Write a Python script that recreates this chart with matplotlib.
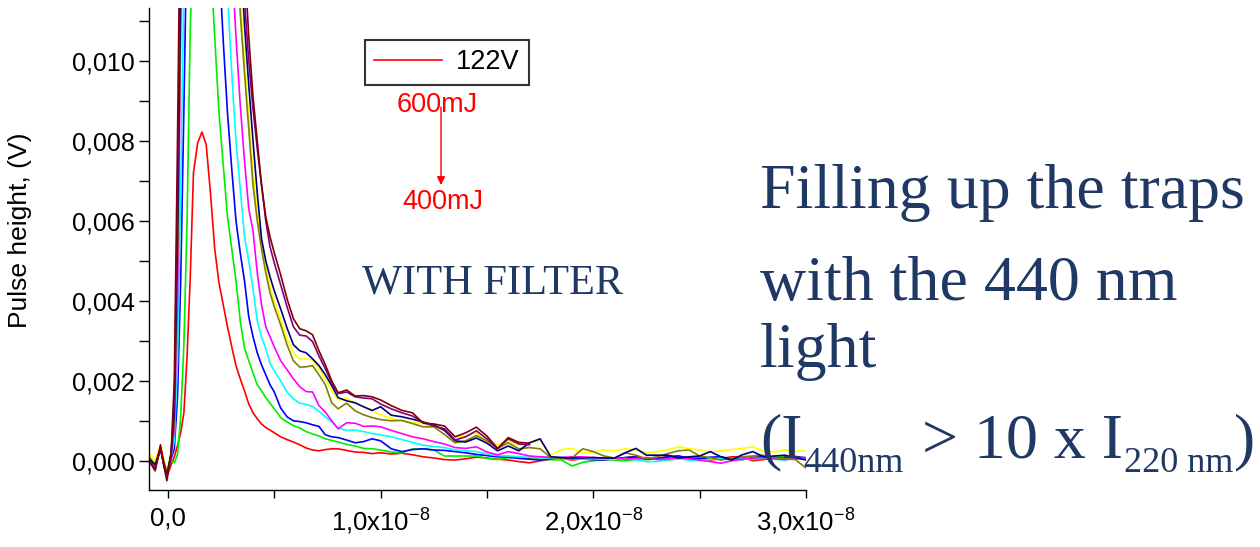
import numpy as np
import matplotlib
matplotlib.use('Agg')
import matplotlib.pyplot as plt

plt.rcParams['font.family'] = ['Liberation Sans', 'DejaVu Sans']
plt.rcParams['mathtext.fontset'] = 'custom'
plt.rcParams['mathtext.rm'] = 'Liberation Sans'
plt.rcParams['mathtext.sf'] = 'Liberation Sans'

# time axis in ns, pulse heights in mV
time_ns = [-0.89, -0.6, -0.35, -0.2, -0.05, 0.15, 0.3, 0.45, 0.6, 0.75, 0.9, 1.05, 1.2, 1.4, 1.6,
           1.8, 2.0, 2.2, 2.4, 2.6, 2.8, 3.0, 3.2, 3.4, 3.6, 3.8, 4.0, 4.2, 4.4, 4.6, 4.8, 5.0,
           5.3, 5.6, 5.9, 6.2, 6.5, 6.8, 7.1, 7.4, 7.7, 8.0, 8.4, 8.8, 9.2, 9.6, 10.0, 10.5, 11.0,
           11.5, 12.0, 12.5, 13.0, 13.5, 14.0, 14.5, 15.0, 15.5, 16.0, 16.5, 17.0, 17.5, 18.0,
           18.5, 19.0, 19.5, 20.0,
           20.5, 21.0, 21.5, 22.0, 22.5, 23.0, 23.5, 24.0, 24.5, 25.0,
           25.5, 26.0, 26.5, 27.0, 27.5, 28.0, 28.5, 29.0, 29.5, 30.0]

red = [0.05, -0.15, 0.3, -0.05, -0.4, -0.1, 0.1, 0.38, 0.7, 1.2, 2.6, 4.6, 7.2, 7.95, 8.22,
       7.9, 6.7, 5.3, 4.45, 3.9, 3.35, 2.85, 2.38, 2.05, 1.75, 1.42, 1.2, 1.05, 0.92, 0.83, 0.77, 0.7,
       0.6, 0.53, 0.47, 0.4, 0.32, 0.27, 0.25, 0.28, 0.3, 0.3, 0.26, 0.22, 0.21, 0.18, 0.2, 0.17, 0.19,
       0.15, 0.1, 0.07, 0.03, 0.02, 0.05, 0.09, 0.07, 0.04, 0.02, -0.02, -0.05, 0.0, 0.04,
       0.06, 0.02, 0.05, 0.08,
       0.05, 0.04, 0.08, 0.1, 0.03, 0.06, 0.1, 0.12, 0.05, 0.08,
       0.02, 0.05, 0.1, 0.1, 0.0, 0.03, 0.08, 0.12, 0.06, 0.05]
green = [0.1, -0.1, 0.3, 0.0, -0.3, 0.0, -0.05, 0.15, 1.1, 2.9, 6.0, 10.8, 13.2, 14.3, 14.6,
         14.0, 12.5, 10.6, 8.7, 7.4, 6.1, 5.3, 4.5, 3.5, 2.82, 2.5, 2.2, 1.9, 1.75, 1.58, 1.44, 1.3,
         1.08, 0.97, 0.88, 0.82, 0.73, 0.67, 0.62, 0.55, 0.51, 0.47, 0.41, 0.37, 0.31, 0.3, 0.27, 0.22, 0.2,
         0.3, 0.3, 0.27, 0.12, 0.12, 0.12, 0.12, 0.06, 0.03, 0.08, 0.09, 0.06, 0.04, 0.03,
         0.02, -0.13, -0.04, 0.0,
         0.03, 0.02, 0.0, 0.03, 0.06, 0.08, 0.02, 0.05, 0.09, 0.1,
         0.04, 0.04, 0.07, 0.08, 0.03, 0.06, 0.1, 0.1, 0.04, 0.05]
blue = [0.05, -0.15, 0.35, -0.05, -0.35, 0.05, 0.3, 1.6, 4.5, 8.8, 13.5, 17.0, 19.0, 20.0, 20.2,
        19.3, 17.5, 15.2, 12.6, 10.5, 8.7, 7.3, 6.0, 5.2, 4.5, 3.6, 3.1, 2.7, 2.4, 2.15, 1.9, 1.72,
        1.32, 1.1, 1.0, 0.98, 0.95, 0.9, 0.86, 0.65, 0.6, 0.58, 0.52, 0.45, 0.48, 0.55, 0.5, 0.3, 0.23,
        0.28, 0.3, 0.27, 0.26, 0.23, 0.2, 0.16, 0.13, 0.1, 0.09, 0.06, 0.04, 0.02, 0.05,
        0.08, 0.07, 0.04, 0.03,
        0.02, 0.05, 0.08, 0.1, 0.04, 0.06, 0.1, 0.12, 0.07, 0.05,
        0.09, 0.1, 0.05, 0.03, 0.08, 0.12, 0.07, 0.06, 0.1, 0.08]
cyan = [0.08, -0.12, 0.3, 0.0, -0.3, 0.1, 0.5, 2.5, 6.8, 12.0, 16.5, 20.0, 22.5, 24.0, 24.3,
        23.5, 21.5, 19.0, 16.5, 13.8, 11.7, 9.7, 8.0, 6.8, 5.6, 5.0, 4.3, 3.5, 3.1, 2.8, 2.44, 2.25,
        2.0, 1.72, 1.55, 1.44, 1.41, 1.36, 1.24, 1.1, 0.97, 0.82, 0.76, 0.77, 0.73, 0.68, 0.65, 0.6, 0.53,
        0.46, 0.39, 0.36, 0.33, 0.27, 0.25, 0.23, 0.17, 0.13, 0.12, 0.1, 0.09, 0.08, 0.07,
        0.05, 0.06, 0.04, 0.05,
        0.04, 0.04, 0.06, 0.02, -0.02, -0.02, 0.03, 0.05, 0.02, 0.0,
        0.04, 0.06, 0.02, 0.03, 0.06, 0.08, 0.04, 0.02, 0.05, 0.06]
magenta = [0.0, -0.2, 0.35, -0.05, -0.35, 0.1, 0.8, 4.0, 10.8, 16.0, 20.5, 24.0, 26.5, 28.0, 28.5,
           27.5, 25.5, 23.0, 20.5, 17.5, 15.0, 12.5, 10.6, 8.9, 7.5, 6.3, 5.75, 4.7, 3.9, 3.35, 3.1, 2.85,
           2.5, 2.28, 2.05, 1.85, 1.73, 1.72, 1.38, 1.22, 1.0, 0.8, 0.95, 0.94, 0.86, 0.87, 0.85, 0.76, 0.68,
           0.6, 0.55, 0.48, 0.42, 0.33, 0.31, 0.35, 0.22, 0.15, 0.23, 0.18, 0.12, 0.1, 0.09,
           0.08, 0.1, 0.1, 0.08,
           0.07, 0.07, 0.04, 0.06, 0.08, 0.03, 0.05, 0.08, 0.05, 0.02,
           -0.02, -0.06, 0.0, 0.04, 0.07, 0.08, 0.05, 0.03, 0.06, 0.07]
yellow = [0.2, 0.0, 0.4, 0.05, -0.25, 0.2, 1.2, 5.5, 12.0, 18.0, 23.0, 27.0, 30.0, 32.0, 32.5,
          31.8, 30.0, 27.5, 24.5, 21.5, 19.0, 16.5, 14.0, 11.6, 10.0, 8.6, 7.2, 6.3, 5.5, 4.9, 4.35, 4.0,
          3.55, 3.05, 2.7, 2.54, 2.55, 2.52, 2.3, 2.05, 1.75, 1.52, 1.56, 1.45, 1.35, 1.25, 1.15, 1.06, 1.0,
          0.96, 0.94, 0.85, 0.8, 0.6, 0.62, 0.7, 0.45, 0.4, 0.5, 0.38, 0.45, 0.5, 0.14,
          0.28, 0.31, 0.19, 0.22,
          0.27, 0.25, 0.3, 0.27, 0.2, 0.23, 0.28, 0.35, 0.3, 0.27,
          0.22, 0.25, 0.28, 0.31, 0.35, 0.25, 0.22, 0.27, 0.24, 0.25]
olive = [0.1, -0.1, 0.35, 0.0, -0.3, 0.15, 1.0, 5.0, 11.5, 17.5, 23.0, 27.0, 30.0, 32.0, 32.5,
         31.5, 29.5, 27.0, 24.0, 21.0, 18.5, 16.0, 13.5, 11.2, 9.7, 8.3, 6.9, 6.0, 5.3, 4.7, 4.2, 3.85,
         3.4, 2.9, 2.5, 2.34, 2.35, 2.38, 2.15, 1.9, 1.45, 1.3, 1.44, 1.25, 1.15, 1.08, 1.03, 1.0, 1.01,
         0.93, 0.85, 0.85, 0.66, 0.45, 0.5, 0.63, 0.5, 0.31, 0.45, 0.3, 0.33, 0.3, 0.08,
         0.06, 0.07, 0.3, 0.23,
         0.12, 0.07, 0.2, 0.14, 0.05, 0.1, 0.18, 0.25, 0.27, 0.12,
         0.08, 0.02, 0.06, 0.1, 0.12, 0.14, 0.08, 0.05, 0.03, -0.18]
navy = [0.05, -0.1, 0.3, -0.05, -0.35, 0.15, 1.2, 5.5, 12.0, 18.5, 24.0, 28.5, 32.0, 34.5, 35.2,
        34.5, 32.5, 29.5, 26.5, 23.5, 20.5, 17.8, 15.2, 12.8, 10.9, 9.4, 8.0, 6.7, 5.55, 5.0, 4.6, 4.25,
        3.8, 3.32, 2.9, 2.75, 2.7, 2.55, 2.38, 2.15, 1.88, 1.58, 1.5, 1.45, 1.35, 1.26, 1.35, 1.14, 1.1,
        1.04, 0.97, 0.9, 0.76, 0.5, 0.47, 0.57, 0.44, 0.25, 0.37, 0.25, 0.45, 0.55, 0.1,
        0.08, 0.07, 0.07, 0.08,
        0.07, 0.07, 0.2, 0.31, 0.14, 0.14, 0.14, 0.07, 0.1, 0.12,
        0.23, 0.1, 0.02, 0.15, 0.23, 0.1, 0.12, 0.14, 0.08, 0.02]
# the two highest traces stop at about 17 ns
purple = [0.0, -0.2, 0.3, -0.1, -0.4, 0.2, 1.5, 6.5, 13.5, 20.0, 26.0, 31.0, 34.5, 37.0, 37.8,
          37.0, 35.0, 32.0, 28.5, 25.5, 22.5, 19.5, 16.5, 13.8, 11.5, 10.0, 8.8, 7.8, 6.9, 6.0, 5.35, 4.95,
          4.4, 3.85, 3.35, 3.14, 3.12, 2.98, 2.62, 2.3, 1.95, 1.68, 1.72, 1.6, 1.57, 1.55, 1.42, 1.3, 1.2,
          1.12, 0.96, 0.87, 0.8, 0.52, 0.6, 0.75, 0.55, 0.3, 0.55, 0.42, 0.4] + [np.nan] * 26
maroon = [0.0, -0.25, 0.4, -0.1, -0.5, 0.2, 2.0, 8.0, 15.0, 22.0, 28.0, 33.0, 37.0, 39.5, 40.3,
          39.5, 37.5, 34.5, 31.0, 27.5, 24.5, 21.5, 18.5, 15.5, 12.5, 10.6, 9.1, 8.0, 6.9, 6.1, 5.6, 5.2,
          4.65, 4.05, 3.55, 3.3, 3.25, 3.15, 2.75, 2.4, 2.0, 1.7, 1.77, 1.62, 1.63, 1.6, 1.52, 1.38, 1.26,
          1.2, 0.94, 0.92, 0.87, 0.6, 0.7, 0.84, 0.62, 0.31, 0.58, 0.46, 0.44] + [np.nan] * 26

series = [red, green, blue, cyan, magenta, yellow, olive, navy, purple, maroon]
colors = ['#ff0000', '#00ee00', '#0000ff', '#00ffff', '#ff00ff', '#ffff00', '#808000', '#000080', '#800080', '#800000']
legend_label = '122V'

xtick_vals = [0, 1e-8, 2e-8, 3e-8]
xtick_labels = ['0,0', r'$\mathsf{1{,}0x10^{-8}}$', r'$\mathsf{2{,}0x10^{-8}}$', r'$\mathsf{3{,}0x10^{-8}}$']
ytick_vals = [0, 0.002, 0.004, 0.006, 0.008, 0.010]
ytick_labels = ['0,000', '0,002', '0,004', '0,006', '0,008', '0,010']

W, H = 1260, 547
fig = plt.figure(figsize=(W / 100, H / 100), dpi=100)
ax = fig.add_axes([149 / W, 57 / H, 657 / W, 482 / H])

t = np.array(time_ns) * 1e-9
for i, (vals, c) in enumerate(zip(series, colors)):
    ax.plot(t, np.array(vals) * 1e-3, color=c, lw=1.2,
            label=legend_label if i == 0 else '_nolegend_')

ax.set_xlim(-0.089e-8, 3.0e-8)
ax.set_ylim(-0.00073, 0.01132)
ax.set_xticks(xtick_vals, xtick_labels)
ax.set_xticks([0.5e-8, 1.5e-8, 2.5e-8], minor=True)
ax.set_yticks(ytick_vals, ytick_labels)
ax.set_yticks([0.001, 0.003, 0.005, 0.007, 0.009, 0.011], minor=True)
ax.tick_params(which='both', direction='out', width=1)
ax.tick_params(axis='y', which='both', length=7, pad=3, labelsize=18)
ax.tick_params(axis='x', which='both', length=6, pad=6, labelsize=18.5)
for s in ['top', 'right']:
    ax.spines[s].set_visible(False)
for s in ['left', 'bottom']:
    ax.spines[s].set_linewidth(1)

fig.text(20 / W, 1 - 230 / H, 'Pulse height, (V)', rotation=90, fontsize=19,
         ha='center', va='center')

leg = ax.legend(loc='upper left', bbox_to_anchor=((365 - 149) / 657, (490 - 40) / 482),
                fontsize=19.5, frameon=True, fancybox=False, handlelength=2.5,
                borderpad=0.35, borderaxespad=0, handletextpad=0.5)
leg.get_frame().set_edgecolor('black')
leg.get_frame().set_linewidth(1.5)

ax.text((437 - 149) / 657, (490 - 105) / 482, '600mJ', color='red', fontsize=19.5,
        ha='center', va='center', transform=ax.transAxes)
ax.text((443 - 149) / 657, (490 - 202) / 482, '400mJ', color='red', fontsize=19.5,
        ha='center', va='center', transform=ax.transAxes)
ax.annotate('', xy=((441 - 149) / 657, (490 - 185) / 482),
            xytext=((441 - 149) / 657, (490 - 107) / 482), xycoords='axes fraction',
            arrowprops=dict(arrowstyle='-|>', color='red', lw=1, mutation_scale=12,
                            shrinkA=0, shrinkB=0))

navy_txt = '#1f3864'
serif = 'Liberation Serif'
fig.text(362 / W, 1 - 293 / H, 'WITH FILTER', family=serif, fontsize=30.5,
         color=navy_txt, va='baseline')
fig.text(760 / W, 1 - 208 / H, 'Filling up the traps', family=serif, fontsize=46,
         color=navy_txt, va='baseline')
fig.text(760 / W, 1 - 300 / H, 'with the 440 nm', family=serif, fontsize=46,
         color=navy_txt, va='baseline')
fig.text(760 / W, 1 - 367 / H, 'light', family=serif, fontsize=46,
         color=navy_txt, va='baseline')

# last line: big text with smaller, lowered subscripts
renderer = fig.canvas.get_renderer()
pieces = [('(I', 46, 457, 0), ('440nm', 26, 472, 1), (' > 10 x I', 46, 457, 2),
          ('220 nm', 26, 472, 1), (')', 46, 457, 1)]
x = 760
for s, fs, yb, gap in pieces:
    tx = fig.text((x + gap) / W, 1 - yb / H, s, family=serif, fontsize=fs, color=navy_txt,
                  va='baseline')
    x = tx.get_window_extent(renderer).x1

fig.savefig('out.png', dpi=100)
